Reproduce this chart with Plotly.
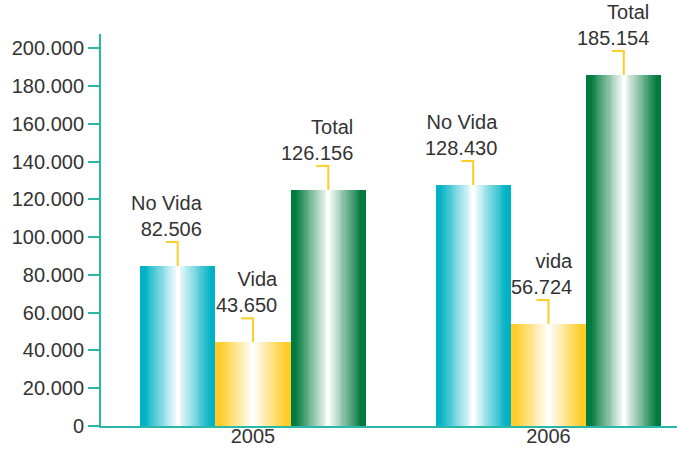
import plotly.graph_objects as go

# ---- data ----
years = ["2005", "2006"]
series_names = ["No Vida", "Vida", "Total"]
no_vida = [84700, 127600]
vida = [44300, 54000]
total = [125000, 185900]
label_names = [["No Vida", "No Vida"], ["Vida", "vida"], ["Total", "Total"]]
label_values = [["82.506", "128.430"], ["43.650", "56.724"], ["126.156", "185.154"]]
y_ticks = [0, 20000, 40000, 60000, 80000, 100000, 120000, 140000, 160000, 180000, 200000]
y_tick_text = ["0", "20.000", "40.000", "60.000", "80.000", "100.000",
               "120.000", "140.000", "160.000", "180.000", "200.000"]

# ---- style ----
base_colors = [(0, 178, 197), (255, 204, 40), (0, 122, 61)]
axis_color = "#2BB7A8"
text_color = "#333333"
font_family = "Liberation Sans, Arial, sans-serif"
bar_w = 0.2548
N = 40

fig = go.Figure()
xs = list(range(len(years)))
series_vals = [no_vida, vida, total]

def mix(c, f):
    return "rgb(%d,%d,%d)" % tuple(round(ci + (255 - ci) * f) for ci in c)

for si, vals in enumerate(series_vals):
    start = (si - 1.5) * bar_w
    sw = bar_w / N
    for k in range(N):
        t = (k + 0.5) / N
        d = abs(2 * t - 1)
        f = max(0.0, 1 - d / 0.88) ** 1.0
        if d < 0.04:
            f = 1.0
        w = sw * 1.6 if k < N - 1 else sw
        fig.add_trace(go.Bar(
            x=xs, y=vals, width=[w] * len(xs), offset=[start + k * sw] * len(xs),
            marker=dict(color=mix(base_colors[si], f), line=dict(width=0)),
            showlegend=False, hoverinfo="skip",
        ))

annotations = []
shapes = []
for si, vals in enumerate(series_vals):
    center = (si - 1) * bar_w
    for yi, v in enumerate(vals):
        xc = xs[yi] + center
        shapes.append(dict(type="line", xref="x", yref="y", xsizemode="pixel", ysizemode="pixel",
                           xanchor=xc, yanchor=v, x0=0, x1=0, y0=0, y1=24,
                           line=dict(color="#FFCC29", width=2)))
        shapes.append(dict(type="line", xref="x", yref="y", xsizemode="pixel", ysizemode="pixel",
                           xanchor=xc, yanchor=v, x0=-12, x1=1, y0=24, y1=24,
                           line=dict(color="#FFCC29", width=2)))
        annotations.append(dict(x=xc, y=v, xref="x", yref="y",
                                text=label_names[si][yi] + "<br>" + label_values[si][yi],
                                xanchor="right", yanchor="bottom", align="right",
                                xshift=27, yshift=24,
                                showarrow=False, font=dict(size=20, color=text_color, family=font_family)))

fig.update_layout(
    width=677, height=449,
    margin=dict(l=101, r=0, t=34, b=23),
    paper_bgcolor="white", plot_bgcolor="white",
    barmode="overlay", bargap=0,
    font=dict(family=font_family, size=20, color=text_color),
    annotations=annotations, shapes=shapes,
    xaxis=dict(range=[-0.5144, 1.4349], tickvals=xs, ticktext=years, showgrid=False,
               zeroline=False, showline=True, linecolor=axis_color, linewidth=2,
               ticks="", automargin=False, ticklabelstandoff=-9,
               tickfont=dict(size=20, color=text_color, family=font_family)),
    yaxis=dict(range=[0, 207570], tickvals=y_ticks, ticktext=y_tick_text, showgrid=False,
               zeroline=False, showline=True, linecolor=axis_color, linewidth=2,
               ticks="outside", ticklen=11, tickwidth=2, tickcolor=axis_color, automargin=False,
               tickfont=dict(size=20, color=text_color, family=font_family)),
)

fig.write_html("out.html", config={"displayModeBar": False},
               post_script="document.body.style.margin='0';document.body.style.overflow='hidden';")
